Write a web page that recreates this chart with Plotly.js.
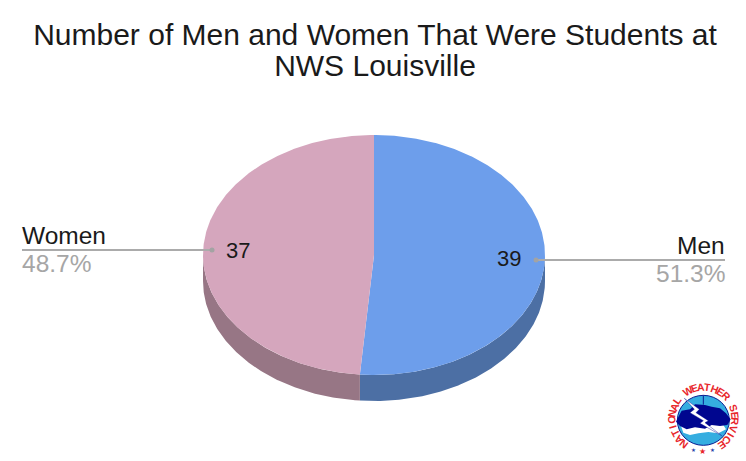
<!DOCTYPE html>
<html><head><meta charset="utf-8">
<script src="https://cdn.plot.ly/plotly-3.0.1.min.js"></script>
<style>html,body{margin:0;padding:0;background:#fff}#c{width:746px;height:461px}</style>
</head><body><div id="c"></div>
<script>
var categories = ['Men', 'Women'];
var counts = [39, 37];
var percentLabels = ['51.3%', '48.7%'];
var topColors = ['#6d9eeb', '#d5a6bd'];
var sideColors = ['#4c6fa4', '#977685'];
var chartTitle = 'Number of Men and Women That Were Students at<br>NWS Louisville';
var logoText = 'NATIONAL WEATHER SERVICE';

var FONT = '"Liberation Sans", Arial, sans-serif';
var cx = 374, cy = 255, rx = 171, ry = 120, depth = 26;
var total = counts[0] + counts[1];

function pt(a, dy) { return [cx + rx * Math.sin(a), cy - ry * Math.cos(a) + (dy || 0)]; }
function arc(a0, a1) {
  var n = Math.max(2, Math.ceil(Math.abs(a1 - a0) / 0.01)), out = [];
  for (var i = 0; i <= n; i++) out.push(a0 + (a1 - a0) * i / n);
  return out;
}
function poly(pts, color, name) {
  return {type: 'scatter', mode: 'lines', x: pts.map(function (p) { return p[0]; }), y: pts.map(function (p) { return p[1]; }),
    fill: 'toself', fillcolor: color, line: {width: 0, color: color}, hoverinfo: 'skip', showlegend: false, name: name};
}

var traces = [], angle = 0, spans = [];
counts.forEach(function (v) { var s = v / total * 2 * Math.PI; spans.push([angle, angle + s]); angle += s; });

// extruded sides (only the front half, pi/2..3pi/2, is visible)
spans.forEach(function (s, i) {
  var a0 = Math.max(s[0], Math.PI / 2), a1 = Math.min(s[1], 3 * Math.PI / 2);
  var as = arc(a0, a1);
  var pts = as.map(function (a) { return pt(a); }).concat(as.slice().reverse().map(function (a) { return pt(a, depth); }));
  traces.push(poly(pts, sideColors[i], categories[i] + ' side'));
});
// top faces
spans.forEach(function (s, i) {
  var pts = [[cx, cy]].concat(arc(s[0], s[1]).map(function (a) { return pt(a); }));
  traces.push(poly(pts, topColors[i], categories[i]));
});

// leader lines
var leaders = [{y: 260, x0: 536, x1: 725}, {y: 250, x0: 212, x1: 22}];
leaders.forEach(function (l) {
  traces.push({type: 'scatter', mode: 'lines', x: [l.x0, l.x1], y: [l.y, l.y], line: {color: '#ababab', width: 2}, hoverinfo: 'skip', showlegend: false});
  traces.push({type: 'scatter', mode: 'markers', x: [l.x0], y: [l.y], marker: {color: '#a3a3a3', size: 5}, hoverinfo: 'skip', showlegend: false});
});

function txt(x, y, t, size, color, anchor) {
  return {x: x, y: y, xref: 'x', yref: 'y', text: t, showarrow: false, xanchor: anchor, yanchor: 'middle',
    font: {family: FONT, size: size, color: color}};
}
var annotations = [
  txt(727, 245, categories[0], 24.5, '#1a1a1a', 'right'),
  txt(727, 273, percentLabels[0], 24.5, '#a6a6a6', 'right'),
  txt(20, 235, categories[1], 24.5, '#1a1a1a', 'left'),
  txt(20, 263, percentLabels[1], 24.5, '#a6a6a6', 'left'),
  txt(509, 258, String(counts[0]), 22, '#1a1a1a', 'center'),
  txt(238, 250, String(counts[1]), 22, '#1a1a1a', 'center')
];

// NWS logo
var lx = 703.5, ly = 419;
function lp(zx, zy) { return (640 + zx / 3) + ',' + (370 + zy / 3); }
function path(list) { return 'M' + list.map(function (p) { return lp(p[0], p[1]); }).join('L') + 'Z'; }
var step = 287 / (logoText.length - 1);
logoText.split('').forEach(function (ch, i) {
  if (ch === ' ') return;
  var deg = -142 + step * i, r = deg * Math.PI / 180;
  annotations.push({x: lx + 32 * Math.sin(r), y: ly - 32 * Math.cos(r), xref: 'x', yref: 'y', text: '<b>' + ch + '</b>', showarrow: false,
    textangle: deg, font: {family: FONT, size: 10.5, color: '#e8262b'}});
});
[[160, 240, '#2b3fa8', 5.5], [188, 243, '#e8262b', 8], [216, 240, '#2b3fa8', 5.5]].forEach(function (s) {
  annotations.push({x: 640 + s[0] / 3, y: 370 + s[1] / 3, xref: 'x', yref: 'y', text: '\u2605', showarrow: false, font: {family: 'DejaVu Sans', size: s[3], color: s[2]}});
});
var shapes = [
  {type: 'circle', xref: 'x', yref: 'y', x0: 640 + 112 / 3, x1: 640 + 268 / 3, y0: 370 + 76 / 3, y1: 370 + 226 / 3, fillcolor: '#35ade0', line: {color: '#0b1d91', width: 1}},
  {type: 'path', xref: 'x', yref: 'y', fillcolor: '#ffffff', line: {width: 0}, path: path([[122, 165], [250, 165], [258, 178], [235, 190], [205, 186], [175, 190], [150, 195], [130, 188]])},
  {type: 'path', xref: 'x', yref: 'y', fillcolor: '#00068f', line: {width: 0}, path: path([[108, 155], [118, 135], [125, 122], [150, 118], [165, 103], [195, 105], [215, 110], [240, 115], [258, 130], [272, 148], [262, 165], [240, 168], [215, 165], [195, 176], [165, 172], [140, 178], [120, 168]])},
  {type: 'path', xref: 'x', yref: 'y', fillcolor: '#ffffff', line: {color: '#00068f', width: 0.4}, path: path([[133, 85], [178, 118], [168, 128], [205, 152], [195, 158], [245, 197], [180, 160], [190, 152], [150, 128], [163, 118]])},
  {type: 'line', xref: 'x', yref: 'y', x0: 640 + 190 / 3, x1: 640 + 190 / 3, y0: 370 + 76 / 3, y1: 370 + 104 / 3, line: {color: '#0b1d91', width: 1}}
];

Plotly.newPlot('c', traces, {
  width: 746, height: 461, autosize: false,
  margin: {l: 0, r: 0, t: 0, b: 0},
  paper_bgcolor: '#ffffff', plot_bgcolor: '#ffffff', showlegend: false,
  hovermode: false,
  title: {text: chartTitle, x: 375 / 746, xanchor: 'center', y: 1 - 34 / 461, yanchor: 'middle',
    font: {family: FONT, size: 30, color: '#1a1a1a'}},
  xaxis: {visible: false, range: [0, 746], fixedrange: true},
  yaxis: {visible: false, range: [461, 0], fixedrange: true},
  annotations: annotations, shapes: shapes
}, {displayModeBar: false, staticPlot: true}).then(function () {
  // the reference's title lines sit closer together than Plotly's default spacing
  var title = document.querySelector('.gtitle');
  if (!title) return;
  var lines = title.querySelectorAll('tspan.line');
  if (lines.length > 1) lines[1].setAttribute('dy', '31px');
  title.setAttribute('transform', 'translate(0,0)');
  var box = title.getBBox();
  title.setAttribute('transform', 'translate(0,' + (18 - box.y) + ')');
});
</script></body></html>
